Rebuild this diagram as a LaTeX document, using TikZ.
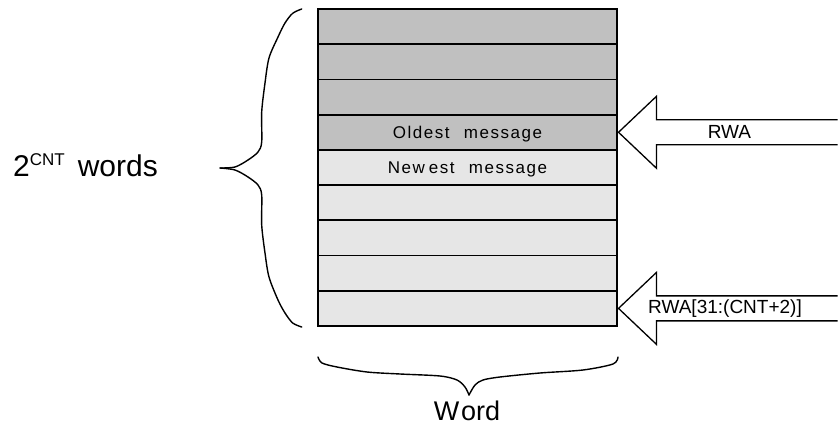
\documentclass[tikz,border=0pt]{standalone}
\usepackage{fontspec}
\setmainfont{Liberation Sans}
\usetikzlibrary{calc}
\definecolor{cellDark}{HTML}{C0C0C0}
\definecolor{cellLight}{HTML}{E6E6E6}
\begin{document}
\begin{tikzpicture}[x=1pt,y=-1pt,
  cell/.style={draw=black, line width=1.8pt, minimum width=299pt, minimum height=35.22pt,
    inner sep=0pt, outer sep=0pt, anchor=north west,
    text height=12.3pt, text depth=0pt,
    font=\fontsize{17}{20}\selectfont\addfontfeatures{LetterSpace=9}},
  old/.style={cell, fill=cellDark},
  new/.style={cell, fill=cellLight},
  bracket/.style={line width=1.4pt, line join=round, line cap=round},
  hollow/.style={draw=black, line width=1.3pt, fill=white, line join=miter},
  ptr/.style={inner sep=0pt, font=\fontsize{19}{22}\selectfont}]
\useasboundingbox (0,0) rectangle (838,425);

% memory rows
\node[old] (r1) at (318,9) {};
\node[old] (r2) at (318,44.22) {};
\node[old] (r3) at (318,79.44) {};
\node[old] (r4) at (318,114.67) {Oldest\hspace{8pt} message};
\node[new] (r5) at (318,149.89) {New\hspace{4pt}est\hspace{8pt} message};
\node[new] (r6) at (318,185.11) {};
\node[new] (r7) at (318,220.33) {};
\node[new] (r8) at (318,255.56) {};
\node[new] (r9) at (318,290.78) {};

% hollow pointer arrows
\coordinate (tipA) at ([xshift=1.5pt]r4.east);
\coordinate (tipB) at ([xshift=1.5pt]r9.east);
\draw[hollow] ($(tipA)+(219,-12.5)$) -- ++(-181,0) -- ++(0,-23.5) -- (tipA)
  -- ++(38,36) -- ++(0,-23.5) -- ++(181,0);
\draw[hollow] ($(tipB)+(219,-12.5)$) -- ++(-181,0) -- ++(0,-23.5) -- (tipB)
  -- ++(38,36) -- ++(0,-23.5) -- ++(181,0);
\node[ptr] (lblA) at ($(tipA)+(111,0)$) {RWA};
\node[ptr] (lblB) at ($(tipB)+(106.5,0)$) {RWA[31:(CNT+2)]};

% left brace
\draw[bracket] plot[smooth, tension=0.5] coordinates {
  (301.7,9) (292.7,13.3) (285,23) (278,37) (269,58) (265,83) (261.7,112)
  (261.7,142) (258,152) (248,160) (235,167) (220,168)};
\draw[bracket] plot[smooth, tension=0.5] coordinates {
  (220,168) (235,170) (248,177) (258,185) (261.7,195) (261.7,225)
  (265,253) (269,277) (278,300) (285,313) (292.7,323) (301.7,327)};
\node[anchor=base west, inner sep=0pt] (depth) at (13,176)
  {\fontsize{30}{36}\selectfont 2\raisebox{11pt}{\fontsize{17}{20}\selectfont CNT}\hspace{13pt}words};

% bottom brace
\draw[bracket] plot[smooth, tension=0.5] coordinates {
  (318,357) (322,363) (337,367) (367,372) (400,374) (440,376) (457,380)
  (465,387) (469,395)};
\draw[bracket] plot[smooth, tension=0.5] coordinates {
  (469,395) (475,385) (483,380) (500,377) (540,373) (583,370) (613,364) (618,357)};
\node[anchor=base, inner sep=0pt, text depth=0pt] (width) at (467,420)
  {\fontsize{27}{32}\selectfont W\kern2pt ord};
\end{tikzpicture}
\end{document}
